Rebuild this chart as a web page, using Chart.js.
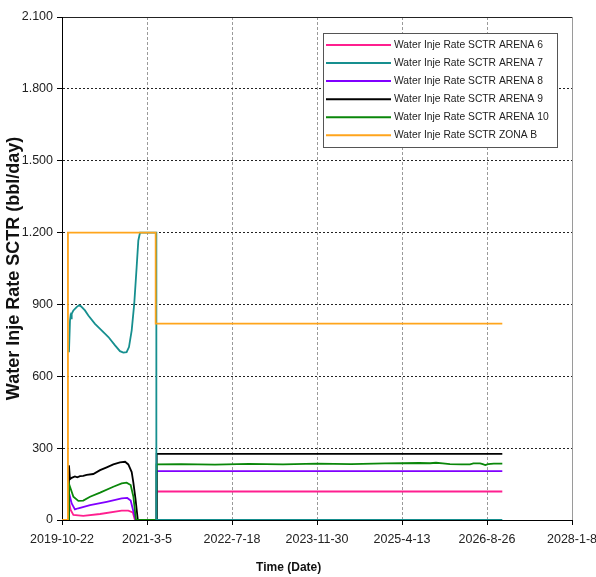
<!DOCTYPE html>
<html>
<head>
<meta charset="utf-8">
<script src="https://cdn.jsdelivr.net/npm/chart.js@4.4.1/dist/chart.umd.min.js"></script>
<style>
  body { margin: 0; background: #fff; }
  #wrap { width: 596px; height: 577px; }
</style>
</head>
<body>
<div id="wrap"><canvas id="myChart" width="596" height="577"></canvas></div>
<script>
// x values are days after 2019-10-22
const xTickLabels = ["2019-10-22", "2021-3-5", "2022-7-18", "2023-11-30", "2025-4-13", "2026-8-26", "2028-1-8"];
const yTickLabels = ["0", "300", "600", "900", "1.200", "1.500", "1.800", "2.100"];

const seriesNames = [
  "Water Inje Rate SCTR ARENA 6",
  "Water Inje Rate SCTR ARENA 7",
  "Water Inje Rate SCTR ARENA 8",
  "Water Inje Rate SCTR ARENA 9",
  "Water Inje Rate SCTR ARENA 10",
  "Water Inje Rate SCTR ZONA B",
];

const arena6Days = [0, 41, 43, 51, 67, 125, 224, 351, 390, 416, 429, 557, 557, 2590];
const arena6Rate = [0, 0, 69, 42, 21, 17, 25, 39, 39, 32, 0, 0, 119, 119];

const arena7Days = [41, 47, 50, 53, 57, 67, 86, 100, 112, 135, 155, 194, 233, 273, 312, 341, 361, 380, 394, 410, 425, 439, 449, 459, 555, 555, 2590];
const arena7Rate = [700, 833, 850, 842, 861, 875, 889, 896, 892, 875, 854, 819, 792, 764, 729, 705, 699, 701, 722, 792, 903, 1055, 1167, 1200, 1200, 0, 0];

const arena8Days = [0, 41, 43, 57, 76, 96, 165, 263, 351, 384, 404, 420, 433, 557, 557, 2590];
const arena8Rate = [0, 0, 108, 69, 44, 49, 62, 76, 90, 92, 81, 35, 0, 0, 204, 204];

const arena9Days = [0, 41, 41, 47, 57, 76, 90, 106, 125, 145, 184, 224, 263, 302, 341, 371, 390, 410, 420, 432, 446, 557, 557, 2590];
const arena9Rate = [0, 0, 228, 170, 176, 182, 178, 183, 184, 188, 192, 208, 220, 232, 241, 243, 232, 200, 155, 90, 0, 0, 276, 276];

const arena10Days = [0, 41, 41, 47, 67, 96, 125, 165, 224, 302, 351, 380, 404, 420, 435, 556, 556, 700, 900, 1100, 1300, 1500, 1700, 1900, 2100, 2165, 2200, 2240, 2282, 2350, 2400, 2420, 2459, 2475, 2490, 2506, 2540, 2590];
const arena10Rate = [0, 0, 152, 139, 97, 80, 81, 97, 114, 139, 153, 156, 146, 97, 0, 0, 232, 233, 231, 234, 232, 235, 233, 236, 238, 237, 239, 236, 233, 232, 232, 236, 236, 233, 229, 233, 235, 235];

const zonaBDays = [0, 35, 35, 551, 551, 2590];
const zonaBRate = [0, 0, 1200, 1200, 820, 820];

const colors = ["#ff1f8f", "#168f8f", "#8000ff", "#000000", "#0a870a", "#ffa51c"];
const drawOrder = [5, 1, 4, 3, 2, 0];

function toPoints(days, rate) {
  return days.map((d, i) => ({ x: d, y: rate[i] }));
}

const allDays = [arena6Days, arena7Days, arena8Days, arena9Days, arena10Days, zonaBDays];
const allRates = [arena6Rate, arena7Rate, arena8Rate, arena9Rate, arena10Rate, zonaBRate];

const sans = "'Liberation Sans', Arial, sans-serif";

// legend box drawn inside the plot, top right
const boxLegend = {
  id: "boxLegend",
  afterDraw(chart) {
    const c = chart.ctx;
    c.save();
    c.fillStyle = "#fff";
    c.fillRect(323, 33, 234, 114);
    c.strokeStyle = "#555";
    c.lineWidth = 1;
    c.strokeRect(323.5, 33.5, 234, 114);
    c.font = "10.3px " + sans;
    c.textBaseline = "middle";
    chart.data.datasets.forEach((ds, i) => {
      const y = 45 + i * 18.05;
      c.strokeStyle = ds.borderColor;
      c.lineWidth = 2;
      c.beginPath();
      c.moveTo(326, y);
      c.lineTo(391, y);
      c.stroke();
      c.fillStyle = "#222";
      c.fillText(ds.label, 394, y);
    });
    c.restore();
  },
};

let ctx = document.getElementById("myChart").getContext("2d");

let myChart = new Chart(ctx, {
  type: "line",
  data: {
    datasets: seriesNames.map((name, i) => ({
      label: name,
      data: toPoints(allDays[i], allRates[i]),
      borderColor: colors[i],
      backgroundColor: colors[i],
      borderWidth: 1.8,
      pointRadius: 0,
      tension: 0,
      fill: false,
      order: drawOrder[i],
    })),
  },
  options: {
    responsive: false,
    animation: false,
    layout: { padding: { left: 0, top: 17, right: 24, bottom: 0 } },
    plugins: {
      legend: { display: false },
      tooltip: { enabled: false },
    },
    scales: {
      x: {
        type: "linear",
        min: 0,
        max: 3000,
        afterFit: (s) => {
          s.height = 57;
          s.paddingLeft = 0;
          s.paddingRight = 0;
        },
        grid: {
          color: (c) => (c.tick && c.tick.value === 0 ? "rgba(0,0,0,0)" : "#9a9a9a"),
          lineWidth: 1,
          tickLength: 5,
          tickColor: "#000",
          tickBorderDash: [],
        },
        border: {
          display: true,
          color: "#000",
          width: 1,
          dash: (c) => (c.tick && c.tick.value === 3000 ? [] : [3, 2]),
        },
        ticks: {
          stepSize: 500,
          autoSkip: false,
          maxRotation: 0,
          padding: 7,
          color: "#222",
          font: { family: sans, size: 12.5 },
          callback: (v, i) => xTickLabels[i],
        },
        title: {
          display: true,
          // trailing spaces move the title left, as in the original
          text: "Time (Date)" + "\u00a0".repeat(17),
          color: "#111",
          font: { family: sans, size: 12, weight: "bold" },
          padding: { top: 0, bottom: 2 },
        },
      },
      y: {
        min: 0,
        max: 2100,
        afterFit: (s) => { s.width = 62; },
        grid: {
          color: (c) => (c.tick && c.tick.value === 0 ? "rgba(0,0,0,0)" : "#222"),
          lineWidth: 1,
          tickLength: 5,
          tickColor: "#000",
          tickBorderDash: [],
        },
        border: {
          display: true,
          color: "#000",
          width: 1,
          dash: (c) => (c.tick && c.tick.value === 2100 ? [] : [2, 2]),
        },
        ticks: {
          stepSize: 300,
          padding: 4,
          color: "#222",
          font: { family: sans, size: 12.5 },
          callback: (v, i) => yTickLabels[i],
        },
        title: {
          display: true,
          text: "Water Inje Rate SCTR (bbl/day)",
          color: "#111",
          font: { family: sans, size: 18, weight: "bold" },
          padding: { top: 3, bottom: 0 },
        },
      },
    },
  },
  plugins: [boxLegend],
});
</script>
</body>
</html>
